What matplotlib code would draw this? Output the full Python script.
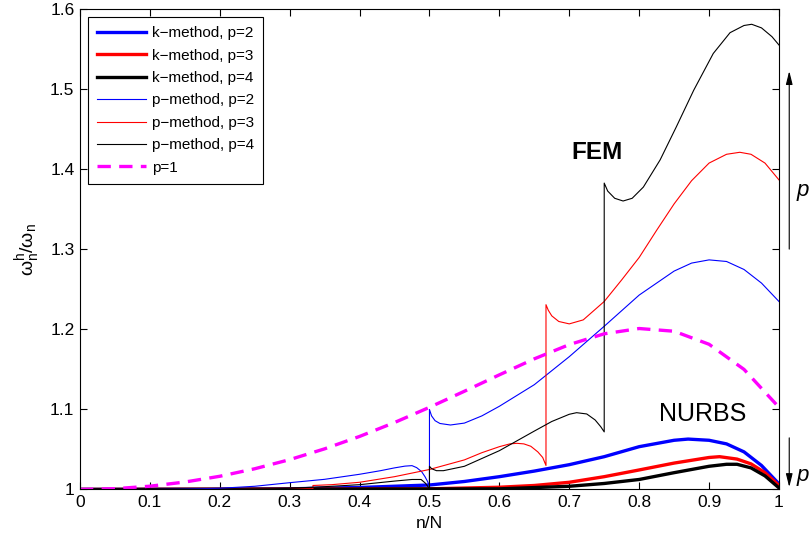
import matplotlib
matplotlib.use("Agg")
import matplotlib.pyplot as plt

plt.rcParams["font.family"] = ["Liberation Sans", "DejaVu Sans"]
plt.rcParams["mathtext.fontset"] = "custom"
plt.rcParams["mathtext.rm"] = "Liberation Sans"
plt.rcParams["mathtext.it"] = "Liberation Sans:italic"

# k-method (NURBS), smooth curves
k2_x = [0, 0.2, 0.3, 0.4, 0.5, 0.55, 0.6, 0.65, 0.7, 0.75, 0.8, 0.85, 0.87, 0.9, 0.925, 0.95, 0.975, 1.0]
k2_y = [1.0, 1.0001, 1.0008, 1.0025, 1.0056, 1.010, 1.016, 1.023, 1.031, 1.041, 1.0535, 1.0615, 1.063,
        1.0615, 1.057, 1.047, 1.030, 1.007]
k3_x = [0, 0.5, 0.6, 0.65, 0.7, 0.75, 0.8, 0.85, 0.9, 0.915, 0.94, 0.96, 0.98, 1.0]
k3_y = [1.0, 1.0008, 1.0028, 1.005, 1.009, 1.016, 1.0244, 1.033, 1.040, 1.041, 1.038, 1.032, 1.021, 1.005]
k4_x = [0, 0.6, 0.7, 0.75, 0.8, 0.85, 0.9, 0.925, 0.94, 0.96, 0.98, 1.0]
k4_y = [1.0, 1.0008, 1.004, 1.0075, 1.0125, 1.021, 1.029, 1.0315, 1.0315, 1.027, 1.017, 1.002]

# p-method (FEM), branches joined by vertical jumps
p2_x = [0, 0.1, 0.15, 0.2, 0.25, 0.3, 0.35, 0.4, 0.43, 0.45, 0.465, 0.475, 0.4817, 0.4888, 0.4936, 0.4974, 0.5,
        0.5, 0.503, 0.508, 0.515, 0.53, 0.55, 0.575, 0.6, 0.65, 0.7, 0.75, 0.8, 0.85, 0.875, 0.9, 0.925,
        0.95, 0.975, 1.0]
p2_y = [1.0, 1.0, 1.0005, 1.0015, 1.004, 1.0085, 1.0127, 1.019, 1.0235, 1.027, 1.0292, 1.0298, 1.0273, 1.0223,
        1.016, 1.0098, 1.004,
        1.100, 1.092, 1.086, 1.0825, 1.0806, 1.083, 1.092, 1.104, 1.131, 1.166, 1.204, 1.243, 1.273, 1.283,
        1.287, 1.285, 1.275, 1.258, 1.235]
p3_x = [0, 0.2, 0.25, 0.3, 0.3333,
        0.3333, 0.36, 0.4, 0.45, 0.5, 0.55, 0.575, 0.6, 0.615, 0.625, 0.635, 0.645, 0.655, 0.662, 0.6667,
        0.6667, 0.67, 0.675, 0.685, 0.7, 0.72, 0.75, 0.775, 0.8, 0.825, 0.85, 0.875, 0.9, 0.925, 0.944,
        0.96, 0.98, 1.0]
p3_y = [1.0, 1.0, 1.0002, 1.0006, 1.001,
        1.005, 1.006, 1.009, 1.016, 1.025, 1.037, 1.046, 1.0535, 1.057, 1.0577, 1.057, 1.054, 1.047, 1.04, 1.030,
        1.231, 1.224, 1.217, 1.210, 1.207, 1.212, 1.235, 1.262, 1.290, 1.324, 1.357, 1.386, 1.408, 1.419,
        1.4215, 1.419, 1.408, 1.387]
p4_x = [0, 0.25, 0.3, 0.35, 0.4, 0.45, 0.475, 0.488, 0.494, 0.5,
        0.5, 0.503, 0.51, 0.52, 0.55, 0.6, 0.65, 0.675, 0.7, 0.7105, 0.725, 0.737, 0.745, 0.75,
        0.75, 0.755, 0.765, 0.777, 0.79, 0.806, 0.83, 0.853, 0.878, 0.906, 0.93, 0.95, 0.961, 0.975,
        0.99, 1.0]
p4_y = [1.0, 1.0, 1.0015, 1.0035, 1.006, 1.0105, 1.0125, 1.0125, 1.008, 1.001,
        1.029, 1.026, 1.0235, 1.0235, 1.029, 1.0485, 1.073, 1.085, 1.094, 1.096, 1.0944, 1.0869, 1.0785, 1.072,
        1.383, 1.373, 1.364, 1.3606, 1.364, 1.378, 1.412, 1.453, 1.499, 1.545, 1.571, 1.580, 1.5815, 1.577,
        1.566, 1.5556]

# linear elements
p1_x = [0, 0.05, 0.1, 0.15, 0.2, 0.25, 0.3, 0.35, 0.4, 0.45, 0.5, 0.55, 0.6, 0.65, 0.7, 0.75, 0.8, 0.85,
        0.9, 0.95, 1.0]
p1_y = [1.0, 1.001, 1.0041, 1.0093, 1.0165, 1.0259, 1.0373, 1.0508, 1.0663, 1.0837, 1.1027, 1.1228, 1.1433,
        1.1633, 1.1811, 1.1946, 1.2012, 1.1978, 1.1815, 1.1501, 1.1027]

x_ticks = [0, 0.1, 0.2, 0.3, 0.4, 0.5, 0.6, 0.7, 0.8, 0.9, 1]
y_ticks = [1, 1.1, 1.2, 1.3, 1.4, 1.5, 1.6]

fig = plt.figure(figsize=(8.11, 5.42), dpi=100)
ax = fig.add_axes([0.0986, 0.0969, 0.8619, 0.8856])

thick = 2.4
thin = 0.8
ax.plot(k2_x, k2_y, color="#0000ff", lw=thick, label="k\u2212method, p=2")
ax.plot(k3_x, k3_y, color="#ff0000", lw=thick, label="k\u2212method, p=3")
ax.plot(k4_x, k4_y, color="black", lw=thick, label="k\u2212method, p=4")
ax.plot(p2_x, p2_y, color="#0000ff", lw=thin, label="p\u2212method, p=2")
ax.plot(p3_x, p3_y, color="#ff0000", lw=thin, label="p\u2212method, p=3")
ax.plot(p4_x, p4_y, color="black", lw=thin, label="p\u2212method, p=4")
ax.plot(p1_x, p1_y, color="#ff00ff", lw=thick, ls=(0, (4, 2.5)), label="p=1")

ax.set_xlim(0, 1)
ax.set_ylim(1, 1.6)
ax.set_xticks(x_ticks)
ax.set_xticklabels([f"{v:g}" for v in x_ticks])
ax.set_yticks(y_ticks)
ax.set_yticklabels([f"{v:g}" for v in y_ticks])
ax.tick_params(direction="in", length=5, width=0.8, top=True, right=True, labelsize=12.5, pad=4)
for s in ax.spines.values():
    s.set_linewidth(0.8)

ax.set_xlabel("n/N", fontsize=12.5, labelpad=4)
ax.set_ylabel(r"$\mathrm{\omega^h_n/\omega_n}$", fontsize=14, labelpad=6)

leg = ax.legend(loc="upper left", fontsize=11, handlelength=3.2, handletextpad=0.4, framealpha=1,
                fancybox=False, edgecolor="black", borderaxespad=0.5, borderpad=0.6, labelspacing=0.55)
leg.get_frame().set_linewidth(0.8)

ax.text(0.74, 1.421, "FEM", fontsize=17.5, fontweight="bold", ha="center", va="center")
ax.text(0.891, 1.094, "NURBS", fontsize=18, ha="center", va="center")

# p arrows outside the right edge
ax.annotate("", xy=(1.0147, 1.5265), xytext=(1.0147, 1.297), annotation_clip=False,
            arrowprops=dict(arrowstyle="-|>,head_width=0.2,head_length=0.8", color="black", lw=0.8))
ax.annotate("", xy=(1.0147, 0.9995), xytext=(1.0147, 1.068), annotation_clip=False,
            arrowprops=dict(arrowstyle="-|>,head_width=0.2,head_length=0.8", color="black", lw=0.8))
ax.text(1.0255, 1.374, "p", fontsize=16, style="italic", ha="left", va="center", clip_on=False)
ax.text(1.0255, 1.018, "p", fontsize=16, style="italic", ha="left", va="center", clip_on=False)

fig.savefig("out.png", dpi=100)
